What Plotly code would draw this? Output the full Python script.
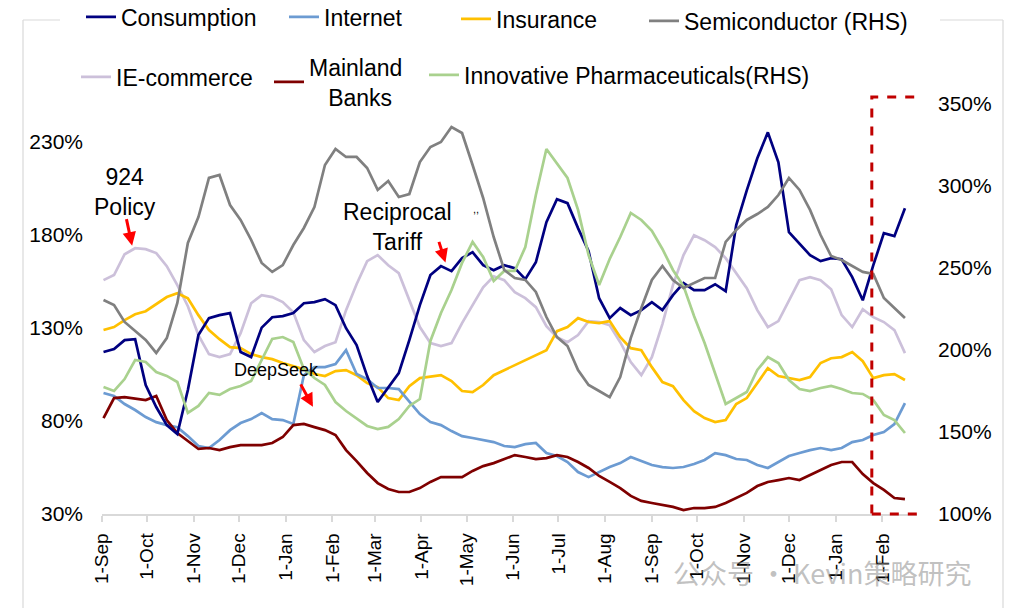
import plotly.graph_objects as go
import pandas as pd

# weekly observation dates
dates = pd.date_range("2024-09-02", periods=77, freq="7D")

consumption = [116.9, 118.5, 123.3, 123.8, 99.2, 87.4, 77.7, 72.9, 96.5, 126.0,
               135.1, 136.7, 137.8, 116.9, 114.2, 130.0, 135.6, 136.2, 137.8, 143.1,
               143.7, 145.3, 142.1, 129.7, 120.6, 104.0, 90.1, 97.6, 105.6, 123.3,
               142.1, 158.2, 163.0, 160.3, 167.3, 170.5, 163.5, 160.8, 163.5, 161.9,
               156.0, 165.1, 186.6, 198.9, 196.8, 183.4, 171.0, 145.8, 135.1, 140.5,
               136.7, 139.4, 143.7, 139.4, 147.4, 153.9, 150.1, 150.1, 153.3, 149.6,
               185.0, 203.7, 220.9, 234.8, 218.7, 181.2, 175.3, 168.9, 165.7, 167.3,
               166.7, 157.1, 144.7, 163.5, 180.7, 179.1, 194.1]

internet = [94.9, 93.3, 89.0, 85.8, 82.0, 79.3, 77.7, 76.6, 71.8, 66.5,
            65.4, 69.7, 75.0, 78.8, 80.9, 84.2, 80.9, 80.4, 78.3, 104.5,
            108.8, 108.8, 110.4, 117.9, 105.1, 102.4, 97.6, 97.6, 97.0, 90.6,
            83.6, 79.3, 77.7, 74.5, 71.8, 70.8, 69.7, 68.6, 66.5, 65.9,
            67.5, 68.1, 62.7, 61.1, 57.9, 52.5, 49.8, 52.5, 55.2, 57.3,
            60.6, 58.4, 56.3, 55.2, 54.7, 55.2, 56.8, 59.0, 62.7, 61.6,
            59.5, 59.0, 56.3, 54.7, 57.9, 61.1, 62.7, 64.3, 65.4, 64.3,
            65.4, 68.6, 69.7, 72.4, 74.0, 78.3, 89.5]

insurance = [128.7, 130.3, 134.0, 137.2, 138.8, 142.6, 146.4, 148.5, 145.8, 136.7,
             128.7, 123.8, 119.5, 119.0, 115.8, 114.2, 113.1, 111.0, 109.4, 107.7,
             105.1, 104.0, 106.7, 107.2, 104.5, 100.2, 98.1, 92.2, 91.1, 98.6,
             102.9, 103.5, 104.5, 101.3, 96.0, 95.4, 99.2, 104.5, 107.2, 109.9,
             112.6, 115.3, 117.9, 128.1, 130.3, 135.1, 133.0, 132.4, 133.5, 124.9,
             119.0, 117.9, 108.8, 100.8, 98.6, 91.1, 85.2, 81.5, 79.3, 80.4,
             89.0, 92.2, 100.2, 108.3, 104.0, 102.9, 101.9, 103.5, 111.0, 113.6,
             114.2, 116.9, 112.0, 102.9, 104.5, 105.1, 101.9]

semiconductor = [230.5, 227.4, 217.1, 211.6, 206.1, 198.2, 207.3, 228.7, 265.3, 281.1,
                 304.9, 306.7, 288.4, 279.3, 267.1, 253.1, 247.6, 251.8, 264.0, 274.4,
                 287.2, 312.8, 322.6, 317.7, 317.7, 311.0, 297.6, 303.1, 293.3, 295.1,
                 314.6, 323.8, 326.8, 336.0, 332.3, 312.8, 292.7, 268.9, 248.8, 243.9,
                 242.7, 235.4, 220.1, 207.9, 202.4, 187.8, 178.7, 175.0, 171.3, 183.5,
                 207.3, 225.6, 242.7, 251.2, 242.7, 237.8, 240.9, 243.9, 243.9, 265.9,
                 273.2, 279.3, 282.9, 287.2, 294.5, 304.9, 297.6, 285.4, 270.1, 257.3,
                 254.9, 251.2, 247.6, 246.4, 231.7, 225.6, 219.5]

ie_commerce = [155.5, 158.2, 169.4, 172.6, 172.1, 170.0, 163.0, 152.8, 141.5, 126.0,
               115.8, 114.2, 115.8, 127.0, 143.1, 147.4, 146.4, 143.7, 138.3, 123.3,
               116.9, 120.1, 122.2, 139.4, 153.3, 165.7, 168.9, 163.5, 159.2, 144.7,
               130.3, 121.7, 120.1, 121.7, 132.4, 142.1, 151.7, 157.6, 155.5, 149.0,
               145.8, 141.0, 130.8, 124.9, 122.2, 126.0, 133.5, 133.0, 131.3, 122.2,
               111.5, 104.5, 114.2, 131.9, 152.8, 168.9, 179.6, 176.9, 173.2, 167.3,
               159.2, 151.2, 139.4, 130.3, 133.5, 144.7, 155.5, 157.1, 155.5, 150.6,
               136.7, 130.3, 139.9, 135.6, 133.0, 128.7, 116.3]

mainland_banks = [81.5, 92.2, 92.7, 91.7, 91.1, 93.3, 80.4, 73.4, 69.1, 64.9,
                  65.4, 64.3, 65.9, 67.0, 67.0, 67.0, 68.1, 71.3, 77.7, 78.3,
                  76.6, 75.0, 72.4, 64.3, 58.4, 52.0, 46.6, 43.4, 41.8, 41.8,
                  43.9, 47.2, 49.8, 49.8, 49.8, 53.1, 55.7, 57.3, 59.5, 61.6,
                  60.6, 59.5, 60.0, 61.6, 60.6, 57.9, 54.7, 50.4, 47.2, 43.9,
                  39.7, 37.0, 35.9, 34.8, 33.8, 32.1, 33.2, 33.2, 33.8, 35.9,
                  38.6, 41.3, 45.0, 47.2, 48.2, 49.3, 48.2, 50.9, 53.6, 56.3,
                  57.9, 57.9, 51.4, 46.6, 42.9, 38.6, 38.0]

innovative_pharma = [177.4, 175.0, 182.3, 193.9, 192.7, 186.6, 184.2, 180.5, 161.6, 165.9,
                     173.8, 172.6, 176.2, 178.1, 181.1, 193.9, 206.7, 207.9, 204.9, 188.4,
                     182.9, 178.7, 168.3, 162.8, 158.5, 153.7, 151.8, 153.1, 157.9, 165.9,
                     170.1, 205.5, 222.6, 236.6, 253.1, 265.9, 256.7, 242.1, 248.2, 248.2,
                     262.8, 294.5, 322.6, 314.0, 304.9, 285.4, 257.9, 239.6, 255.5, 268.9,
                     283.6, 279.3, 272.6, 261.6, 248.8, 239.0, 220.7, 204.3, 186.0, 167.1,
                     170.7, 174.4, 187.8, 195.7, 192.1, 181.7, 176.2, 175.0, 176.8, 178.1,
                     176.2, 173.8, 173.2, 169.5, 160.4, 157.3, 149.4]

tick_dates = ["2024-09-01", "2024-10-01", "2024-11-01", "2024-12-01", "2025-01-01",
              "2025-02-01", "2025-03-01", "2025-04-01", "2025-05-01", "2025-06-01",
              "2025-07-01", "2025-08-01", "2025-09-01", "2025-10-01", "2025-11-01",
              "2025-12-01", "2026-01-01", "2026-02-01"]
tick_labels = ["1-Sep", "1-Oct", "1-Nov", "1-Dec", "1-Jan", "1-Feb", "1-Mar", "1-Apr",
               "1-May", "1-Jun", "1-Jul", "1-Aug", "1-Sep", "1-Oct", "1-Nov", "1-Dec",
               "1-Jan", "1-Feb"]
left_ticks = [30, 80, 130, 180, 230]
right_ticks = [100, 150, 200, 250, 300, 350]

W, H = 1010, 608
L, R, T, B = 102, 93, 104, 94
PW, PH = W - L - R, H - T - B
FONT = "Liberation Sans, Arial, sans-serif"


def px(x):
    return (x - L) / PW


def py(y):
    return (H - B - y) / PH


# (name, values, colour, axis, legend id, legend box left px, legend centre y px)
series = [
    ("Consumption", consumption, "#000080", "y", "legend", 81, 17),
    ("Internet", internet, "#6C9BD2", "y", "legend2", 284, 17),
    ("Insurance", insurance, "#FFC000", "y", "legend3", 456, 19),
    ("Semiconductor (RHS)", semiconductor, "#808080", "y2", "legend4", 644, 21),
    ("IE-commerce", ie_commerce, "#CCC0DA", "y", "legend5", 76, 77),
    ("Mainland<br>\u00a0\u00a0\u00a0Banks", mainland_banks, "#7F0000", "y", "legend6", 269, 82),
    ("Innovative Pharmaceuticals(RHS)", innovative_pharma, "#A9D18E", "y2", "legend7", 424, 75),
]

fig = go.Figure()
order = [4, 6, 2, 1, 5, 3, 0]
for k in order:
    name, vals, color, yax, leg, lx, ly = series[k]
    fig.add_trace(go.Scatter(
        x=dates, y=vals, name=name, mode="lines", yaxis=yax,
        line=dict(color=color, width=2.7), legend=leg, hoverinfo="skip"))

legends = {}
for name, vals, color, yax, leg, lx, ly in series:
    legends[leg] = dict(
        xref="container", yref="container", x=lx / W, y=1 - ly / H,
        xanchor="left", yanchor="middle", bgcolor="rgba(0,0,0,0)", borderwidth=0,
        font=dict(family=FONT, size=23, color="#000000"), orientation="h")

fig.update_layout(
    width=W, height=H,
    margin=dict(l=L, r=R, t=T, b=B, autoexpand=False),
    paper_bgcolor="white", plot_bgcolor="white",
    showlegend=True,
    **legends,
    xaxis=dict(
        range=["2024-09-01", "2026-02-24"], tickvals=tick_dates, ticktext=tick_labels,
        tickangle=-90, showgrid=False, zeroline=False, showline=True,
        linecolor="#D9D9D9", linewidth=1.5, ticks="outside", ticklen=6,
        tickcolor="#D9D9D9", tickwidth=1.5, ticklabelstandoff=4,
        tickfont=dict(family=FONT, size=19, color="#000000")),
    yaxis=dict(
        range=[30, 250], tickvals=left_ticks, ticktext=[f"{v}%" for v in left_ticks],
        showgrid=False, zeroline=False, showline=False, ticks="",
        ticklabelstandoff=18, tickfont=dict(family=FONT, size=21, color="#000000")),
    yaxis2=dict(
        range=[100, 350], tickvals=right_ticks, ticktext=[f"{v}%" for v in right_ticks],
        overlaying="y", side="right", showgrid=False, zeroline=False, showline=False,
        ticks="", ticklabelstandoff=20, tickfont=dict(family=FONT, size=21, color="#000000")),
)

# chart frame (light grey border)
frame = dict(type="line", xref="paper", yref="paper", line=dict(color="#D9D9D9", width=1.2))
fig.add_shape(**frame, x0=px(23), x1=px(23), y0=py(20), y1=py(640))
fig.add_shape(**frame, x0=px(1003), x1=px(1003), y0=py(20), y1=py(640))
fig.add_shape(**frame, x0=px(23), x1=px(60), y0=py(20), y1=py(20))
fig.add_shape(**frame, x0=px(940), x1=px(1003), y0=py(20), y1=py(20))

# highlight box
fig.add_shape(type="rect", xref="x", yref="paper", x0="2026-01-25", x1="2026-02-25",
              y0=0, y1=py(97), line=dict(color="#C00000", width=3, dash="dash"))

ann_font = dict(family=FONT, size=23, color="#000000")
fig.add_annotation(x="2024-09-16", y=203, xref="x", yref="y", text="924<br>Policy",
                   showarrow=False, font=ann_font)
fig.add_annotation(x="2025-03-16", y=184, xref="x", yref="y", text="Reciprocal<br>Tariff",
                   showarrow=False, font=ann_font)
fig.add_annotation(x="2024-12-26", y=107.5, xref="x", yref="y", text="DeepSeek",
                   showarrow=False, font=dict(family=FONT, size=18, color="#000000"))
fig.add_annotation(x="2025-05-07", y=193.5, xref="x", yref="y", text=",,",
                   showarrow=False, font=dict(family=FONT, size=11, color="#000000"))

arrow = dict(text="", showarrow=True, arrowhead=2, arrowsize=0.9, arrowwidth=3,
             arrowcolor="#FF0000", xref="x", yref="y", axref="pixel", ayref="pixel")
fig.add_annotation(**arrow, x="2024-09-21", y=174, ax=-6, ay=-28)
fig.add_annotation(**arrow, x="2025-04-17", y=165, ax=-7, ay=-22)
fig.add_annotation(**arrow, x="2025-01-19", y=87.5, ax=-13, ay=-24)

# watermark
fig.add_annotation(x=px(822), y=py(572), xref="paper", yref="paper",
                   xanchor="center", yanchor="middle",
                   text="公众号 · Kevin策略研究", showarrow=False,
                   font=dict(family="Noto Sans CJK SC", size=27, color="rgba(140,140,140,0.55)"))

fig.write_html("out.html", config={"displayModeBar": False},
               post_script="document.body.style.margin='0';")
